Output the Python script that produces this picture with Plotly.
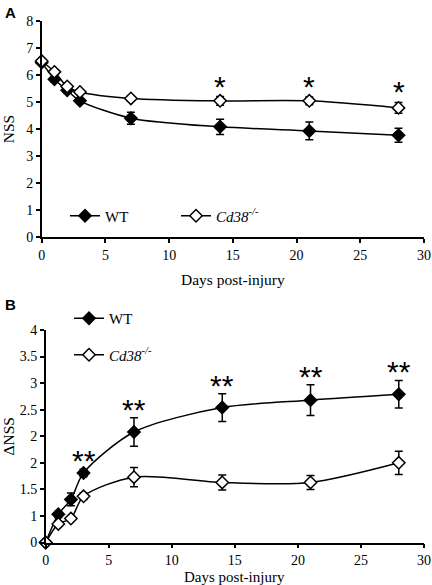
import plotly.graph_objects as go

days = [0, 1, 2, 3, 7, 14, 21, 28]

# Panel A: NSS
nss_wt = [6.46, 5.84, 5.43, 5.04, 4.40, 4.08, 3.93, 3.77]
nss_wt_err = [0.08, 0.10, 0.10, 0.10, 0.22, 0.28, 0.33, 0.26]
nss_ko = [6.51, 6.11, 5.57, 5.37, 5.13, 5.04, 5.04, 4.78]
nss_ko_err = [0.06, 0.08, 0.08, 0.08, 0.10, 0.16, 0.14, 0.20]
sig_a = ["", "", "", "", "", "*", "*", "*"]

# Panel B: delta NSS (in axis units)
dnss_wt = [0.0, 0.53, 0.81, 1.31, 2.08, 2.54, 2.68, 2.79]
dnss_wt_err = [0.0, 0.06, 0.12, 0.07, 0.27, 0.26, 0.29, 0.26]
dnss_ko = [0.0, 0.35, 0.45, 0.87, 1.23, 1.13, 1.13, 1.50]
dnss_ko_err = [0.0, 0.05, 0.05, 0.06, 0.18, 0.14, 0.13, 0.22]
sig_b = ["", "", "", "**", "**", "**", "**", "**"]

b_tickvals = [0, 0.5, 1, 1.5, 2, 2.5, 3, 3.5, 4]
b_ticktext = ["0", "1", "1.5", "2", "2", "2.5", "3", "3.5", "4"]

x_ticks = [0, 5, 10, 15, 20, 25, 30]

SERIF = "Liberation Serif"
SANS = "Liberation Sans"
KO_NAME = "<i>Cd38<sup>-/-</sup></i>"

fig = go.Figure()

def add_series(x, y, err, name, filled, xa, ya, legend, group):
    fig.add_trace(go.Scatter(
        x=x, y=y, name=name, mode="lines+markers",
        xaxis=xa, yaxis=ya, legend=legend, legendgroup=group,
        cliponaxis=False,
        line=dict(color="black", width=1.5, shape="spline", smoothing=0.8),
        marker=dict(symbol="diamond", size=9.5,
                    color="black" if filled else "white",
                    line=dict(color="black", width=1.5)),
        error_y=dict(type="data", array=err, visible=True,
                     color="black", thickness=1.5, width=4),
    ))

add_series(days, nss_wt, nss_wt_err, "WT", True, "x", "y", "legend", "awt")
add_series(days, nss_ko, nss_ko_err, KO_NAME, False, "x", "y", "legend", "ako")
add_series(days, dnss_wt, dnss_wt_err, "WT", True, "x2", "y2", "legend2", "bwt")
add_series(days, dnss_ko, dnss_ko_err, KO_NAME, False, "x2", "y2", "legend2", "bko")

star_font = dict(family=SANS, size=30, color="black")
annotations = []
for d, v, e, s in zip(days, nss_ko, nss_ko_err, sig_a):
    if s:
        annotations.append(dict(x=d, y=v + e, xref="x", yref="y", text=s,
                                showarrow=False, yanchor="bottom", yshift=-8,
                                font=star_font))
for d, v, e, s in zip(days, dnss_wt, dnss_wt_err, sig_b):
    if s:
        annotations.append(dict(x=d, y=v + e, xref="x2", yref="y2", text=s,
                                showarrow=False, yanchor="bottom", yshift=-10,
                                font=star_font))

annotations.append(dict(x=3 / 432, y=1 - 2 / 585, xref="paper", yref="paper", text="<b>A</b>",
                        showarrow=False, xanchor="left", yanchor="top",
                        font=dict(family=SANS, size=15, color="black")))
annotations.append(dict(x=3 / 432, y=1 - 294 / 585, xref="paper", yref="paper", text="<b>B</b>",
                        showarrow=False, xanchor="left", yanchor="top",
                        font=dict(family=SANS, size=15, color="black")))

title_font = dict(family=SERIF, size=15.5, color="black")
# x-axis titles as annotations for exact placement
annotations.append(dict(x=(41.7 + 424) / 2 / 432, y=1 - 279 / 585, xref="paper", yref="paper",
                        text="Days post-injury", showarrow=False, xanchor="center",
                        yanchor="middle", font=title_font))
annotations.append(dict(x=(45.7 + 424) / 2 / 432, y=1 - 577 / 585, xref="paper", yref="paper",
                        text="Days post-injury", showarrow=False, xanchor="center",
                        yanchor="middle", font=dict(family=SERIF, size=15, color="black")))

axis_common = dict(showline=True, linecolor="black", linewidth=1.5, ticks="outside",
                   ticklen=4, tickwidth=1.5, tickcolor="black", showgrid=False,
                   zeroline=False, automargin=False,
                   tickfont=dict(family=SERIF, size=14, color="black"))

fig.update_layout(
    width=432, height=585,
    margin=dict(l=0, r=0, t=0, b=0, pad=0),
    plot_bgcolor="white", paper_bgcolor="white",
    font=dict(family=SERIF, color="black", size=15),
    showlegend=True,
    xaxis=dict(domain=[41.7 / 432, 424 / 432], anchor="y", range=[0, 30],
               tickvals=x_ticks, **axis_common),
    yaxis=dict(domain=[1 - 237.3 / 585, 1 - 20.7 / 585], anchor="x", range=[0, 8], dtick=1,
               title=dict(text="NSS", font=title_font, standoff=8),
               **axis_common),
    xaxis2=dict(domain=[45.7 / 432, 424 / 432], anchor="y2", range=[0, 30],
                tickvals=x_ticks, **axis_common),
    yaxis2=dict(domain=[1 - 542.5 / 585, 1 - 330 / 585], anchor="x2", range=[0, 4],
                tickvals=b_tickvals, ticktext=b_ticktext,
                title=dict(text="ΔNSS", font=title_font, standoff=11),
                **axis_common),
    legend=dict(orientation="h", x=65 / 432, y=1 - 216 / 585, xanchor="left", yanchor="middle",
                bgcolor="rgba(0,0,0,0)", entrywidth=66, entrywidthmode="pixels",
                font=dict(family=SERIF, size=15, color="black")),
    legend2=dict(orientation="v", x=69 / 432, y=1 - 302 / 585, xanchor="left", yanchor="top",
                 bgcolor="rgba(0,0,0,0)", tracegroupgap=14,
                 font=dict(family=SERIF, size=15, color="black")),
    annotations=annotations,
)

fig.write_html("out.html",
               config={"displayModeBar": False},
               post_script="document.body.style.margin='0';document.body.style.overflow='hidden';")
